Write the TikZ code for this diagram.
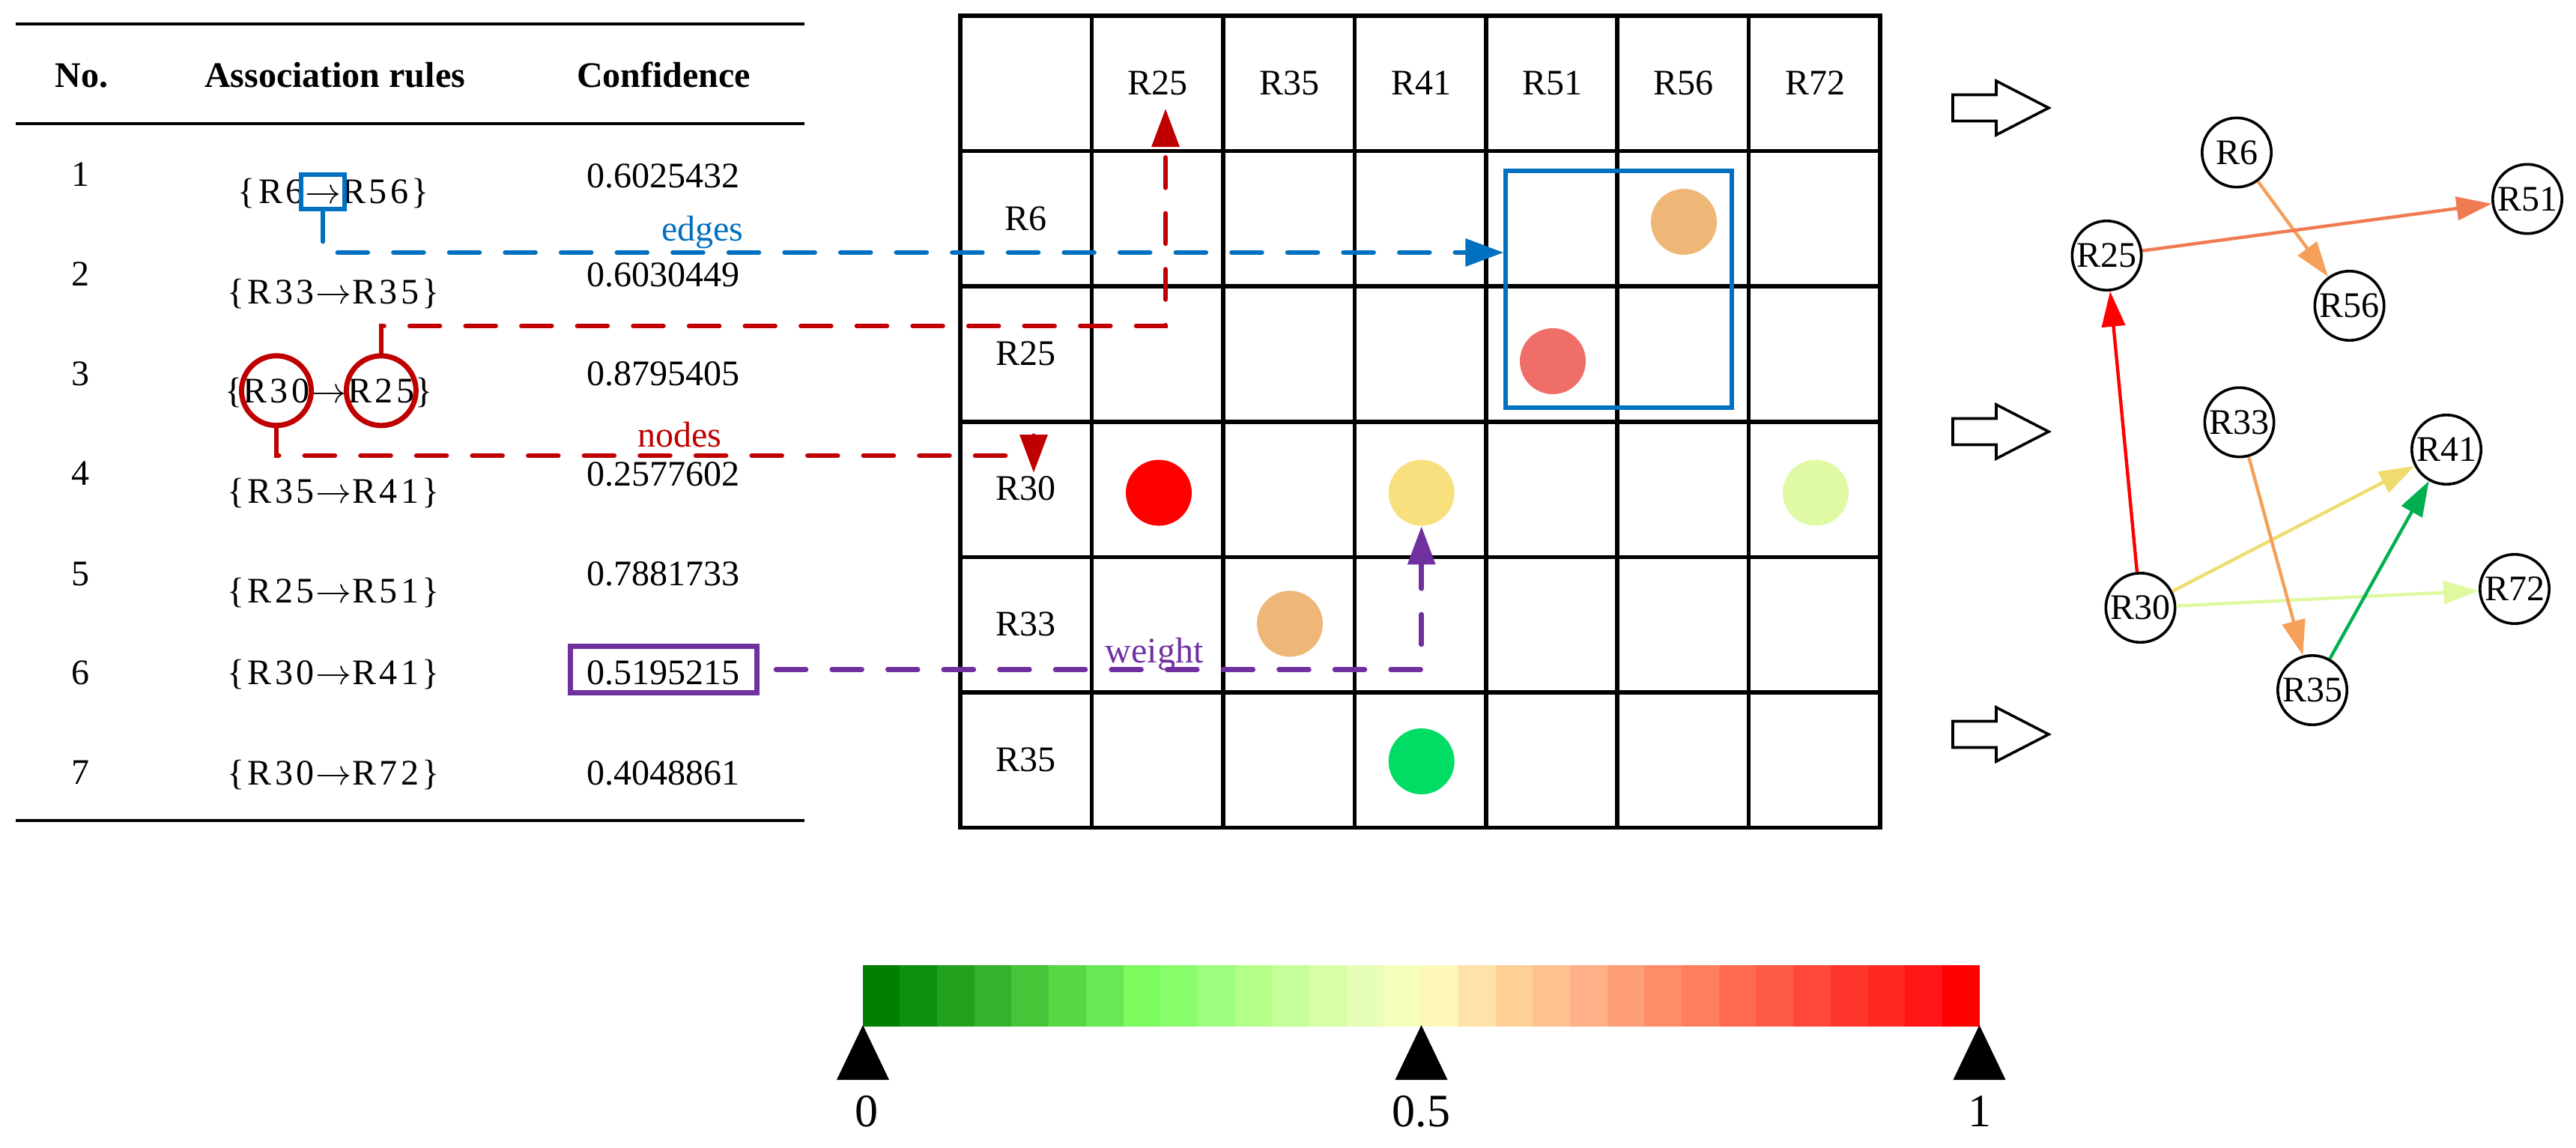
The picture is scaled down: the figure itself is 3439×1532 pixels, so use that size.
\documentclass[tikz,border=0pt]{standalone}
\usepackage{fontspec}
\setmainfont{Liberation Serif}
\newfontfamily\rulefont[LetterSpace=9]{Liberation Serif}
\usetikzlibrary{arrows.meta,calc}
\definecolor{myblue}{HTML}{0070C0}
\definecolor{myred}{HTML}{C00000}
\definecolor{mypurple}{HTML}{7030A0}
\definecolor{dotA}{HTML}{EEB777}
\definecolor{dotB}{HTML}{F06E69}
\definecolor{dotC}{HTML}{FF0000}
\definecolor{dotD}{HTML}{F9E07F}
\definecolor{dotE}{HTML}{DFF9A4}
\definecolor{dotF}{HTML}{00DC64}
\definecolor{eOrange}{HTML}{F4A05A}
\definecolor{eSalmon}{HTML}{F07B52}
\definecolor{eRed}{HTML}{FF0000}
\definecolor{eYellow}{HTML}{F0DC6E}
\definecolor{eLime}{HTML}{DFF9A0}
\definecolor{eGreen}{HTML}{00B050}
\newcommand{\rarr}{\ensuremath{\rightarrow}}
\begin{document}
\begin{tikzpicture}[x=0.25pt,y=-0.25pt,
  t12/.style={inner sep=0pt,font=\fontsize{12}{14}\selectfont},
  hdr/.style={inner sep=0pt,font=\fontsize{12}{14}\selectfont\bfseries},
  rl/.style={inner sep=0pt,font=\rulefont\fontsize{12}{14}\selectfont},
  tabrule/.style={line width=1.15pt},
  gridln/.style={line width=1.4pt},
  dot/.style={circle,inner sep=0pt,minimum size=22pt},
  dashpat/.style={line width=1.65pt,line cap=round,dash pattern=on 10pt off 8.65pt},
  tipA/.style={-{Triangle[length=12.75pt,width=9pt]}},
  redcirc/.style={circle,draw=myred,line width=1.75pt,minimum size=23.25pt,inner sep=0pt},
  rnode/.style={circle,draw,line width=0.9pt,minimum size=23.1pt,inner sep=0pt,font=\fontsize{12}{14}\selectfont},
  edge/.style={line width=1.1pt,-{Triangle[length=11.75pt,width=7.75pt]}},
  blockarrow/.style={draw,line width=0.9pt,line join=miter},
]
\useasboundingbox (0,0) rectangle (3439,1532);

% ---------------- table ----------------
\draw[tabrule] (21,32) -- (1074,32);
\draw[tabrule] (21,165) -- (1074,165);
\draw[tabrule] (21,1095) -- (1074,1095);
\node[hdr,anchor=base] (hno) at (109,116) {No.};
\node[hdr,anchor=base] (hrule) at (447,116) {Association rules};
\node[hdr,anchor=base] (hconf) at (886,116) {Confidence};

\foreach \n/\b in {1/248,2/381,3/514,4/647,5/781,6/913,7/1046}
  \node[t12,anchor=base] (no\n) at (107,\b) {\n};
\foreach \n/\v/\b in {1/0.6025432/250,2/0.6030449/382,3/0.8795405/514,4/0.2577602/648,5/0.7881733/781,6/0.5195215/913,7/0.4048861/1047}
  \node[t12,anchor=base] (cf\n) at (885,\b) {\v};

% rules (arrow, left part, right part)
\foreach \n/\l/\r/\b in {2/R33/R35/405,4/R35/R41/671,5/R25/R51/804,6/R30/R41/913,7/R30/R72/1047}{
  \node[rl,anchor=base] (ra\n) at (445,\b) {\rarr};
  \node[rl,anchor=base east] (rl\n) at (ra\n.base west) {\{\l};
  \node[rl,anchor=base west] (rr\n) at (ra\n.base east) {\r\}};
}
% rule 1
\node[rl,anchor=base] (ra1) at (431,271) {\rarr};
\node[rl,anchor=base east] (rl1) at (ra1.base west) {\{R6};
\node[rl,anchor=base west] (rr1) at (ra1.base east) {R56\}};
\node[draw=myblue,line width=1.6pt,minimum width=14.5pt,minimum height=11.5pt,inner sep=0pt] (b1) at (431,256) {};
% rule 3
\node[rl,anchor=base] (t30) at (369,537) {R30};
\node[rl,anchor=base east] (rl3) at (t30.base west) {\{};
\node[rl,anchor=base west] (ra3) at (t30.base east) {\rarr};
\node[rl,anchor=base west] (t25) at (ra3.base east) {R25};
\node[rl,anchor=base west] (rr3) at (t25.base east) {\}};
\node[redcirc] (c30) at (t30.center) {};
\node[redcirc] (c25) at (t25.center) {};
% weight box
\node[draw=mypurple,line width=1.75pt,minimum width=62.25pt,minimum height=15.5pt,inner sep=0pt] (wbox) at (886,893.5) {};

% labels
\node[t12,text=myblue,anchor=base] (lbedges) at (938,321) {edges};
\node[t12,text=myred,anchor=base] (lbnodes) at (907,596) {nodes};
\node[t12,text=mypurple,anchor=base] (lbweight) at (1541,884) {weight};

% ---------------- grid ----------------
\foreach \i in {0,...,7}
  \draw[gridln,line cap=rect] (1282+\i*175.43,21) -- (1282+\i*175.43,1104.5);
\foreach \j in {0,...,6}
  \draw[gridln,line cap=rect] (1282,21+\j*180.58) -- (2510,21+\j*180.58);
\foreach \nm/\x in {R25/1545,R35/1721,R41/1897,R51/2072,R56/2247,R72/2423}
  \node[t12] (h\nm) at (\x,111) {\nm};
\foreach \nm/\y in {R6/292,R25/472,R30/652,R33/833,R35/1014}
  \node[t12] (r\nm) at (1369,\y) {\nm};

\node[dot,fill=dotA] (d1) at (2248,296) {};
\node[dot,fill=dotB] (d2) at (2073,482) {};
\node[dot,fill=dotC] (d3) at (1547,657.6) {};
\node[dot,fill=dotD] (d4) at (1897.7,657.6) {};
\node[dot,fill=dotE] (d5) at (2424,657.6) {};
\node[dot,fill=dotA] (d6) at (1722,832.4) {};
\node[dot,fill=dotF] (d7) at (1897.7,1016) {};

\node[draw=myblue,line width=1.3pt,minimum width=75.5pt,minimum height=79pt,inner sep=0pt] (bigbox) at (2161,386) {};

% ---------------- connectors ----------------
\coordinate (bc) at (431,337);
\coordinate (rc1) at (1556,435);
\coordinate (rt1) at (1556,145);
\coordinate (rc2) at (1380,608);
\coordinate (rt2) at (1380,631);
\draw[dashpat,myblue,tipA] (b1.south) -- (bc) -- (bigbox.west |- bc);
\draw[dashpat,myred,tipA] (c25.north) |- (rc1) -- (rt1);
\draw[dashpat,myred,tipA] (c30.south) |- (rc2) -- (rt2);
\draw[dashpat,mypurple,tipA,shorten <=5.5pt] (wbox.east) -| (d4.south);

% ---------------- block arrows ----------------
\foreach \c in {144,576,980}
  \draw[blockarrow] (2607,\c-17.5) -- (2665,\c-17.5) -- (2665,\c-36) -- (2735,\c) -- (2665,\c+36) -- (2665,\c+17.5) -- (2607,\c+17.5) -- cycle;

% ---------------- network ----------------
\node[rnode] (n6) at (2986,203.5) {R6};
\node[rnode] (n25) at (2812.5,341) {R25};
\node[rnode] (n51) at (3374,265.5) {R51};
\node[rnode] (n56) at (3136.5,408) {R56};
\node[rnode] (n33) at (2989.5,563.5) {R33};
\node[rnode] (n41) at (3266,600) {R41};
\node[rnode] (n30) at (2857.5,811) {R30};
\node[rnode] (n72) at (3357,786) {R72};
\node[rnode] (n35) at (3087,921) {R35};
\draw[edge,eOrange] (n6) -- (n56);
\draw[edge,eSalmon] (n25) -- (n51);
\draw[edge,eRed] (n30) -- (n25);
\draw[edge,eYellow] (n30) -- (n41);
\draw[edge,eLime] (n30) -- (n72);
\draw[edge,eOrange] (n33) -- (n35);
\draw[edge,eGreen] (n35) -- (n41);

% ---------------- colour bar ----------------
\foreach \c [count=\i from 0] in {007F00,0F8F0F,22A11F,33B22C,46C539,57D843,69E853,7DFB5F,8AFF6C,9DFF80,B3FF88,C5FF9A,D8FFA5,E6FEB8,F4FFBB,FFF7BA,FFE2A8,FFD197,FFC18F,FFB086,FF9F7A,FF8C69,FF7F5D,FF6B50,FF5A43,FF4838,FF362B,FF2820,FF1515,FF0000}{
  \definecolor{cbc}{HTML}{\c}
  \fill[cbc] (1151.6+\i*49.7,1288) rectangle ++(50.2,82);
}
\foreach \x in {1152,1897.5,2642.5}
  \fill (\x,1368) -- (\x-35,1441) -- (\x+35,1441) -- cycle;
\node[inner sep=0pt,anchor=base,font=\fontsize{15.5}{18}\selectfont] (tk0) at (1157,1503) {0};
\node[inner sep=0pt,anchor=base,font=\fontsize{15.5}{18}\selectfont] (tk5) at (1897.5,1503) {0.5};
\node[inner sep=0pt,anchor=base,font=\fontsize{15.5}{18}\selectfont] (tk1) at (2643,1503) {1};
\end{tikzpicture}
\end{document}
